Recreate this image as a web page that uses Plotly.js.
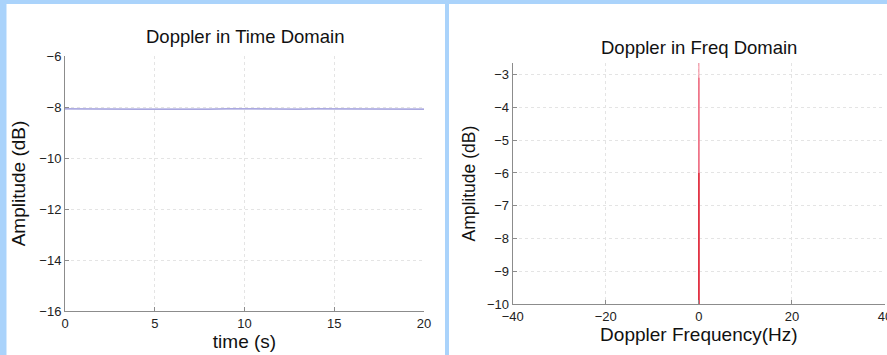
<!DOCTYPE html>
<html>
<head>
<meta charset="utf-8">
<script src="https://cdn.plot.ly/plotly-3.0.1.min.js"></script>
<style>
html,body{margin:0;padding:0;background:#aad3fb;}
#chart{width:887px;height:355px;}
</style>
</head>
<body>
<div id="chart"></div>
<script>
// Time-domain Doppler amplitude (dB)
const timeS = [0,1,2,3,4,5,6,7,8,9,10,11,12,13,14,15,16,17,18,19,20];
const ampTimeDb = [-8.07,-8.08,-8.08,-8.07,-8.08,-8.08,-8.09,-8.08,-8.08,-8.07,-8.08,-8.08,-8.09,-8.08,-8.07,-8.07,-8.08,-8.08,-8.08,-8.09,-8.08];

// Frequency-domain Doppler spectrum (dB): overlapping spectral lines at 0 Hz
const freqHz = [-40,-0.1,0,0.1,40];
const specPeakDb = [-60,-60,-2.65,-60,-60];
const specMidDb = [-60,-60,-3.1,-60,-60];
const specLowDb = [-60,-60,-6.0,-60,-60];

const xTimeTicks = [0,5,10,15,20];
const yTimeTicks = [-16,-14,-12,-10,-8,-6];
const xFreqTicks = [-40,-20,0,20,40];
const yFreqTicks = [-10,-9,-8,-7,-6,-5,-4,-3];

const W = 887, H = 355;
const px = v => v / W;
const py = v => 1 - v / H;

const FONT = 'Liberation Sans, Arial, sans-serif';
const tickFont = {family: FONT, size: 13, color: '#222'};
const titleFont = {family: FONT, size: 19, color: '#111'};

const axisCommon = {
  showline: true, linecolor: '#8c8c8c', linewidth: 1,
  ticks: 'inside', ticklen: 4, tickcolor: '#8c8c8c',
  showgrid: true, gridcolor: '#e4e4e4', griddash: 'dot', gridwidth: 1,
  zeroline: false, tickfont: tickFont, mirror: false, fixedrange: true,
  ticklabeloverflow: 'allow'
};

const traces = [
  {x: timeS, y: ampTimeDb, type: 'scatter', mode: 'lines', xaxis: 'x', yaxis: 'y',
   line: {color: '#8e8cd6', width: 1.2}, hoverinfo: 'skip', showlegend: false},
  {x: freqHz, y: specPeakDb, type: 'scatter', mode: 'lines', xaxis: 'x2', yaxis: 'y2',
   line: {color: 'rgba(245,120,140,0.7)', width: 1.3}, hoverinfo: 'skip', showlegend: false},
  {x: freqHz, y: specMidDb, type: 'scatter', mode: 'lines', xaxis: 'x2', yaxis: 'y2',
   line: {color: '#ee6f84', width: 1.5}, hoverinfo: 'skip', showlegend: false},
  {x: freqHz, y: specLowDb, type: 'scatter', mode: 'lines', xaxis: 'x2', yaxis: 'y2',
   line: {color: '#e0303f', width: 1.5}, hoverinfo: 'skip', showlegend: false}
];

const layout = {
  width: W, height: H,
  margin: {l: 0, r: 0, t: 0, b: 0, pad: 0},
  paper_bgcolor: '#aad3fb',
  plot_bgcolor: 'rgba(0,0,0,0)',
  showlegend: false,
  shapes: [
    {type: 'rect', xref: 'paper', yref: 'paper', x0: px(6.5), x1: px(445), y0: 0, y1: py(4),
     fillcolor: '#ffffff', line: {width: 0}, layer: 'below'},
    {type: 'rect', xref: 'paper', yref: 'paper', x0: px(449), x1: 1, y0: 0, y1: py(4),
     fillcolor: '#ffffff', line: {width: 0}, layer: 'below'}
  ],
  xaxis: Object.assign({}, axisCommon, {
    domain: [px(65), px(424)], range: [0, 20], tickvals: xTimeTicks,
    anchor: 'y',
    title: {text: 'time (s)', font: titleFont, standoff: 3}
  }),
  yaxis: Object.assign({}, axisCommon, {
    domain: [py(311), py(56)], range: [-16, -6], tickvals: yTimeTicks,
    anchor: 'x',
    title: {text: 'Amplitude (dB)', font: titleFont, standoff: 8}
  }),
  xaxis2: Object.assign({}, axisCommon, {
    domain: [px(512.7), px(885)], range: [-40, 40], tickvals: xFreqTicks,
    anchor: 'y2',
    title: {text: 'Doppler Frequency(Hz)', font: titleFont, standoff: 0}
  }),
  yaxis2: Object.assign({}, axisCommon, {
    domain: [py(304.3), py(63)], range: [-10, -2.65], tickvals: yFreqTicks,
    anchor: 'x2',
    title: {text: 'Amplitude (dB)', font: Object.assign({}, titleFont, {size: 17.5}), standoff: 6}
  }),
  annotations: [
    {text: 'Doppler in Time Domain', xref: 'paper', yref: 'paper',
     x: px(244.5), y: py(37), xanchor: 'center', yanchor: 'middle', showarrow: false,
     font: {family: FONT, size: 18.5, color: '#111'}},
    {text: 'Doppler in Freq Domain', xref: 'paper', yref: 'paper',
     x: px(698.5), y: py(47), xanchor: 'center', yanchor: 'middle', showarrow: false,
     font: {family: FONT, size: 18.5, color: '#111'}}
  ]
};

Plotly.newPlot('chart', traces, layout, {displayModeBar: false, staticPlot: true});
</script>
</body>
</html>
